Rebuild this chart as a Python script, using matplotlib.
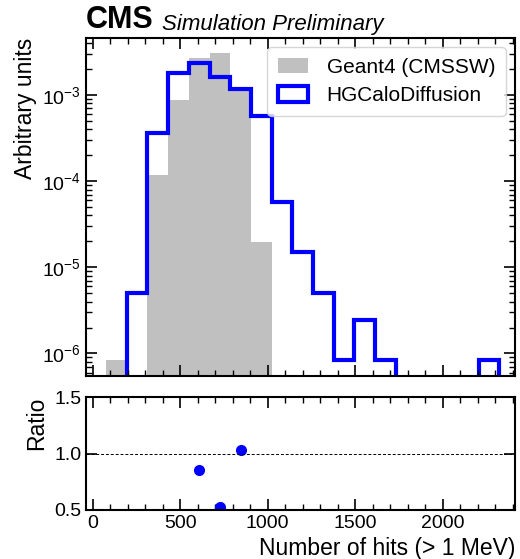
import numpy as np
import matplotlib
matplotlib.use("Agg")
import matplotlib.pyplot as plt
from matplotlib.patches import Patch
from matplotlib.ticker import MultipleLocator, LogLocator, NullFormatter

plt.rcParams['font.family'] = ['Liberation Sans', 'DejaVu Sans']
plt.rcParams['mathtext.fontset'] = 'custom'
plt.rcParams['mathtext.rm'] = 'Liberation Sans'

# histogram data (normalised, arbitrary units), 20 bins
bin_edges = np.linspace(-42, 2324, 21)
geant4 = [0, 8.36e-7, 0, 1.18e-4, 8.75e-4, 2.72e-3, 3.11e-3, 1.13e-3, 1.98e-5, 0,
          0, 0, 0, 0, 0, 0, 0, 0, 0, 0]
diffusion = [0, 0, 4.98e-6, 3.59e-4, 1.79e-3, 2.33e-3, 1.63e-3, 1.17e-3, 5.7e-4, 5.67e-5,
             1.49e-5, 4.98e-6, 8.36e-7, 2.48e-6, 8.36e-7, 0, 0, 0, 0, 8.36e-7]

geant4 = np.array(geant4)
diffusion = np.array(diffusion)
tiny = 1e-12
gray = '#c0c0c0'
blue = '#0000ff'

fig = plt.figure(figsize=(5.2, 5.59), dpi=100)
ax = fig.add_axes([0.1654, 0.327, 0.825, 0.605])
rax = fig.add_axes([0.1654, 0.0877, 0.825, 0.202], sharex=ax)

ax.stairs(np.where(geant4 > 0, geant4, tiny), bin_edges, baseline=tiny, fill=True, color=gray)
ax.stairs(np.where(diffusion > 0, diffusion, tiny), bin_edges, baseline=tiny, color=blue, lw=3)
ax.set_yscale('log')
ax.set_ylim(5.45e-7, 4.59e-3)
ax.set_xlim(-38, 2413)
ax.set_ylabel('Arbitrary units', fontsize=16.5, loc='top')

handles = [Patch(facecolor=gray, edgecolor='none', label='Geant4 (CMSSW)'),
           Patch(facecolor='none', edgecolor=blue, lw=3, label='HGCaloDiffusion')]
ax.legend(handles=handles, loc='upper right', fontsize=15, handlelength=1.45,
          handleheight=0.75, handletextpad=0.9, borderaxespad=0.45, borderpad=0.5,
          labelspacing=0.45, framealpha=0.8)

# ratio panel
centers = (bin_edges[:-1] + bin_edges[1:]) / 2
mask = (geant4 > 0) & (diffusion > 0)
ratio = diffusion[mask] / geant4[mask]
rax.plot(centers[mask], ratio, 'o', color=blue, ms=7)
rax.axhline(1.0, color='black', lw=0.7, ls=(0, (3, 2)))
rax.set_ylim(0.5, 1.5)
rax.set_yticks([0.5, 1.0, 1.5])
rax.set_ylabel('Ratio', fontsize=16.5, loc='top')
rax.set_xlabel('Number of hits (> 1 MeV)', fontsize=16.5, loc='right')

for a in (ax, rax):
    a.tick_params(which='both', direction='in', top=True, right=True, labelsize=14)
    a.tick_params(which='major', length=8, width=1.2)
    a.tick_params(which='minor', length=4, width=1.0)
    a.xaxis.set_major_locator(MultipleLocator(500))
    a.xaxis.set_minor_locator(MultipleLocator(100))
    for s in a.spines.values():
        s.set_linewidth(1.5)
ax.yaxis.set_minor_locator(LogLocator(base=10, subs=np.arange(2, 10)))
ax.yaxis.set_minor_formatter(NullFormatter())
plt.setp(ax.get_xticklabels(), visible=False)

ax.text(0.0, 1.008, 'CMS', transform=ax.transAxes, fontsize=22, fontweight='bold',
        ha='left', va='bottom')
ax.text(0.178, 1.008, 'Simulation Preliminary', transform=ax.transAxes, fontsize=16,
        style='italic', ha='left', va='bottom')

fig.savefig('out.png', dpi=100)
